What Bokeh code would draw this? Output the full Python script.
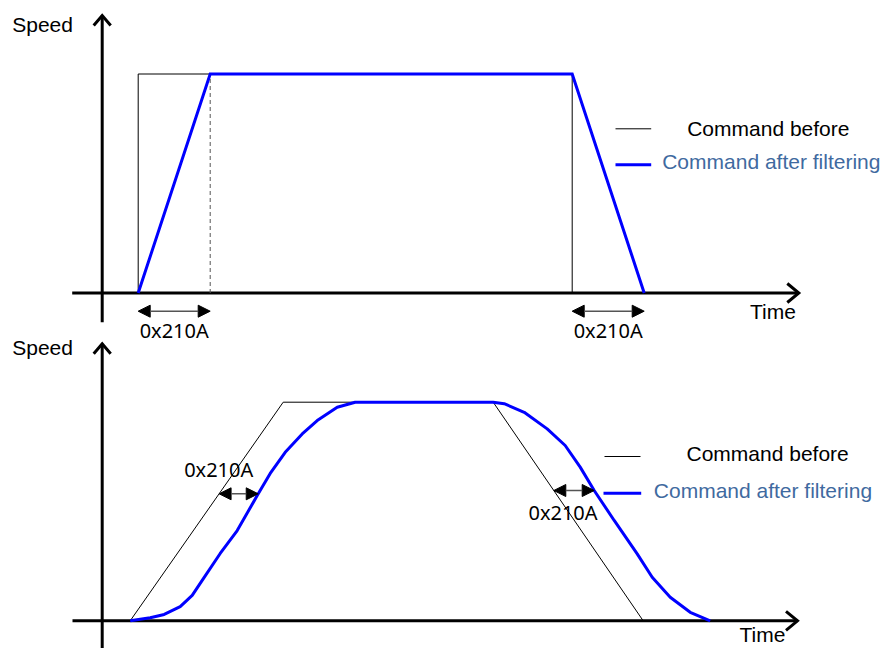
import numpy as np
from bokeh.plotting import figure
from bokeh.models import Range1d, Arrow, NormalHead
from bokeh.core.properties import value
from bokeh.embed import file_html
from bokeh.resources import INLINE

# ---------------- data (time in arbitrary ticks, speed in % of command) ----------------
filter_label = "0x210A"

# Panel 1: step command and filtered (linear accel) command
p1_before_t = [36, 36, 470, 470]
p1_before_v = [0, 100, 100, 0]
p1_after_t = [36, 108, 470, 542]
p1_after_v = [0, 100, 100, 0]

# Panel 2: trapezoid command and S-curve filtered command
p2_before_t = [28, 181, 391, 541]
p2_before_v = [0, 100, 100, 0]
p2_after_t = [28, 48, 62, 78, 90, 102, 118, 135, 155, 168, 183, 200, 215, 235, 253,
              391, 402, 422, 445, 463, 478, 492, 512, 535, 550, 568, 588, 608]
p2_after_v = [0, 1.4, 2.9, 6.5, 11.6, 19.9, 30.8, 41.3, 57.3, 67.4, 77.1, 85.5, 91.6, 97.7, 100,
              100, 99.3, 95.4, 87.8, 80.2, 70.3, 59.6, 45.9, 30.6, 19.9, 10.8, 3.9, 0]

legend_texts = ["Command before", "Command after filtering"]
axis_texts = ["Speed", "Time"]

# ---------------- layout ----------------
W, H = 885, 648
OFF = 0.0
ORIGIN_X = 101.7       # page x of the speed axis
P1_BASE, P1_SC = 292.5, 2.19    # page y of time axis, px per %
P2_BASE, P2_SC = 620.3, 2.186
TXT_DY = 8.5           # renderer places alphabetic baseline this much lower

def tx(px):
    return px - ORIGIN_X

def v1(py):
    return (P1_BASE - py) / P1_SC

def v2(py):
    return (P2_BASE - py) / P2_SC

p = figure(width=W, height=H, output_backend="svg", toolbar_location=None,
           x_range=Range1d(tx(OFF), tx(OFF + W)),
           y_range=Range1d(v1(OFF + H), v1(OFF)),
           min_border=0, min_border_left=0, min_border_right=0,
           min_border_top=0, min_border_bottom=0)
p.extra_y_ranges = {"p2": Range1d(v2(OFF + H), v2(OFF))}
p.xaxis.visible = False
p.yaxis.visible = False
p.grid.visible = False
p.outline_line_color = None
p.background_fill_color = "white"
p.border_fill_color = "white"

BLUE = "#0000ff"
LEG_BLUE = "#3f6aa0"
FONT = value("Liberation Sans")
FONT2 = value("Noto Sans")


def axes(base_v_fn, rn, vtop_py, vbot_py, hleft_px, hright_px, base_py):
    kw = {} if rn is None else {"y_range_name": rn}
    # vertical axis
    p.line([0, 0], [base_v_fn(vbot_py), base_v_fn(vtop_py)], line_color="black",
           line_width=3, **kw)
    p.line([-8.5, 0, 8.5], [base_v_fn(vtop_py + 10), base_v_fn(vtop_py), base_v_fn(vtop_py + 10)],
           line_color="black", line_width=3, line_join="miter", **kw)
    # horizontal axis
    p.line([tx(hleft_px), tx(hright_px)], [0, 0], line_color="black", line_width=3, **kw)
    p.line([tx(hright_px - 11.5), tx(hright_px), tx(hright_px - 11.5)],
           [base_v_fn(base_py - 9.5), 0, base_v_fn(base_py + 9.5)],
           line_color="black", line_width=3, line_join="miter", **kw)


def dbl_arrow(t0, t1, v, rn):
    kw = {} if rn is None else {"y_range_name": rn}
    p.add_layout(Arrow(start=NormalHead(size=12, fill_color="black", line_color="black", line_width=1),
                       end=NormalHead(size=12, fill_color="black", line_color="black", line_width=1),
                       x_start=t0, y_start=v, x_end=t1, y_end=v,
                       line_color="#555555", line_width=1.5, **kw))


def label(x_px, base_py, txt, vfn, rn=None, align="left", color="black", font=FONT, size="21px"):
    kw = {} if rn is None else {"y_range_name": rn}
    p.text(x=[tx(x_px)], y=[vfn(base_py - TXT_DY)], text=[txt], text_font=font,
           text_font_size=size, text_align=align, text_baseline="alphabetic",
           text_color=color, **kw)


def px_of(t):
    return t + ORIGIN_X


# ================= Panel 1 =================
axes(v1, None, 15.0, 321.7, 71.7, 798.3, P1_BASE)
p.line(p1_before_t, p1_before_v, line_color="black", line_width=1)
p.line([p1_after_t[1], p1_after_t[1]], [0, p1_after_v[1]], line_color="#555555",
       line_width=1, line_dash="4 3")
p.line(p1_after_t, p1_after_v, line_color=BLUE, line_width=3, line_join="miter")

arrow_v1 = v1(310.7)
dbl_arrow(p1_after_t[0], p1_after_t[1], arrow_v1, None)
dbl_arrow(p1_after_t[2], p1_after_t[3], arrow_v1, None)
label(px_of((p1_after_t[0] + p1_after_t[1]) / 2), 338.3, filter_label, v1, align="center",
      font=FONT2, size="20px")
label(px_of((p1_after_t[2] + p1_after_t[3]) / 2), 338.3, filter_label, v1, align="center",
      font=FONT2, size="20px")

# legend panel 1
p.line([tx(615), tx(650.7)], [v1(128.3), v1(128.3)], line_color="black", line_width=1)
p.line([tx(615), tx(650.7)], [v1(164.3), v1(164.3)], line_color=BLUE, line_width=3)
label(686.7, 136.0, legend_texts[0], v1)
label(661.7, 169.3, legend_texts[1], v1, color=LEG_BLUE)

label(11.7, 32.5, axis_texts[0], v1)
label(749.5, 319.3, axis_texts[1], v1)

# ================= Panel 2 =================
axes(v2, "p2", 343.3, 660.0, 72.0, 797.0, P2_BASE)
p.line(p2_before_t, p2_before_v, line_color="black", line_width=1, y_range_name="p2")
p.line(p2_after_t, p2_after_v, line_color=BLUE, line_width=3, y_range_name="p2")

# filter-delay arrows between the two curves (positions derived from the data)
def t_on_rise(ts, vs, v):
    i = int(np.argmax(vs))
    return float(np.interp(v, vs[: i + 1], ts[: i + 1]))

def t_on_fall(ts, vs, v):
    k = len(vs) - 1 - int(np.argmax(vs[::-1]))
    return float(np.interp(v, vs[k:][::-1], ts[k:][::-1]))

va = v2(493.3)
dbl_arrow(t_on_rise(p2_before_t, p2_before_v, va), t_on_rise(p2_after_t, p2_after_v, va), va, "p2")
vb = v2(490.0)
dbl_arrow(t_on_fall(p2_before_t, p2_before_v, vb), t_on_fall(p2_after_t, p2_after_v, vb), vb, "p2")
label(218.2, 477.3, filter_label, v2, rn="p2", align="center", font=FONT2, size="20px")
label(562.5, 520.7, filter_label, v2, rn="p2", align="center", font=FONT2, size="20px")

# legend panel 2
p.line([tx(604), tx(640)], [v2(456.0), v2(456.0)], line_color="black", line_width=1,
       y_range_name="p2")
p.line([tx(603), tx(640.7)], [v2(492.7), v2(492.7)], line_color=BLUE, line_width=3,
       y_range_name="p2")
label(686.0, 461.0, legend_texts[0], v2, rn="p2")
label(653.3, 498.0, legend_texts[1], v2, rn="p2", color=LEG_BLUE)

label(11.7, 355.0, axis_texts[0], v2, rn="p2")
label(739.0, 642.0, axis_texts[1], v2, rn="p2")

open("out.html", "w").write(file_html(p, INLINE))
